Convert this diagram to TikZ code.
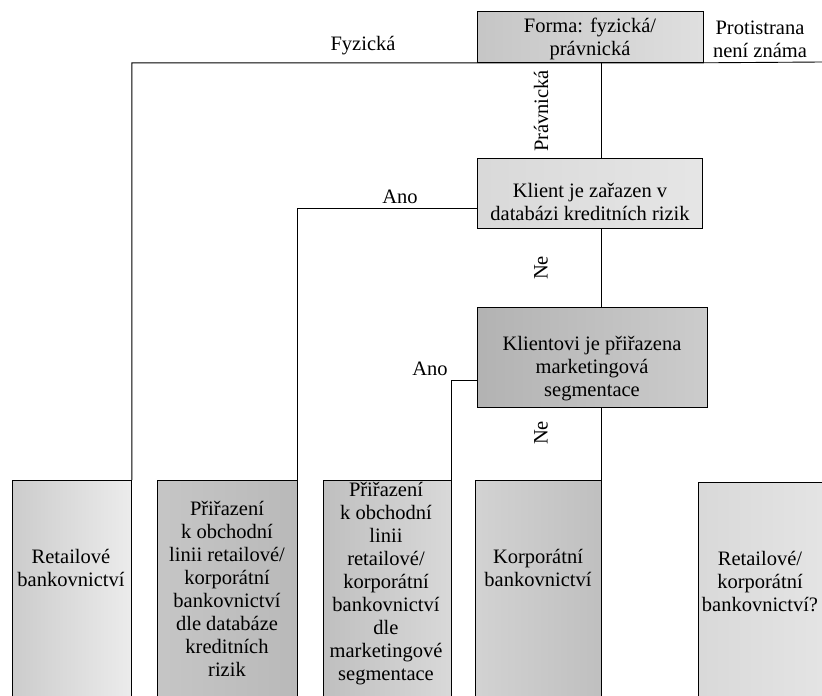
\documentclass[tikz,border=0pt]{standalone}
\usepackage{fontspec}
\setmainfont{Liberation Serif}
\begin{document}
\begin{tikzpicture}[x=1pt,y=-1pt,
  box/.style={draw=black, line width=0.8pt, inner sep=0pt, anchor=north west},
  txt/.style={font=\fontsize{20.5}{23}\selectfont, align=center, inner sep=1pt},
  lbl/.style={font=\fontsize{20.5}{23}\selectfont, inner sep=1pt},
  conn/.style={draw=black, line width=0.9pt}]
\useasboundingbox (0,0) rectangle (822,696);
\fill[white] (0,0) rectangle (822,696);
\clip (0,0) rectangle (822,696);
% decision boxes
\node[box, left color=gray!45, right color=gray!25, minimum width=226pt, minimum height=51pt] (forma) at (477,11) {};
\node[box, left color=gray!30, right color=gray!20, minimum width=225pt, minimum height=70pt] (klient) at (477,158) {};
\node[box, left color=gray!60, right color=gray!40, minimum width=230pt, minimum height=100pt] (mark) at (477,307) {};
% leaf boxes
\node[box, left color=gray!40, right color=gray!15, minimum width=119pt, minimum height=230pt] (b1) at (12,480) {};
\node[box, left color=gray!45, right color=gray!55, minimum width=140pt, minimum height=230pt] (b2) at (157,480) {};
\node[box, left color=gray!50, right color=gray!30, minimum width=128pt, minimum height=230pt] (b3) at (323,480) {};
\node[box, left color=gray!35, right color=gray!50, minimum width=126pt, minimum height=230pt] (b4) at (475,480) {};
\node[box, left color=gray!30, right color=gray!20, minimum width=140pt, minimum height=230pt] (b5) at (698,482) {};
% texts
\node[txt] (tforma) at (590,39) {Forma: fyzická/\\právnická};
\node[txt] (tklient) at (590,202) {Klient je zařazen v\\databázi kreditních rizik};
\node[txt] (tmark) at (592,369) {Klientovi je přiřazena\\marketingová\\segmentace};
\node[txt] (tb1) at (71,568) {Retailové\\bankovnictví};
\node[txt] (tb2) at (227,589) {Přiřazení\\k obchodní\\linii retailové/\\korporátní\\bankovnictví\\dle databáze\\kreditních\\rizik};
\node[txt] (tb3) at (386,584) {Přiřazení\\k obchodní\\linii\\retailové/\\korporátní\\bankovnictví\\dle\\marketingové\\segmentace};
\node[txt] (tb4) at (538,568) {Korporátní\\bankovnictví};
\node[txt] (tb5) at (760,582) {Retailové/\\korporátní\\bankovnictví?};
\node[txt] (tprot) at (760,39) {Protistrana\\není známa};
% connectors
\coordinate (rend) at (822,62);
\coordinate (ano1) at (477,208);
\coordinate (ano2) at (477,380);
\draw[conn] (rend) -- (forma.south east) -- (forma.south west) -| (b1.north east);
\draw[conn] (b4.north east |- forma.south) -- (b4.north east |- klient.north);
\draw[conn] (b4.north east |- klient.south) -- (b4.north east |- mark.north);
\draw[conn] (b4.north east |- mark.south) -- (b4.north east);
\draw[conn] (ano1) -| (b2.north east);
\draw[conn] (ano2) -| (b3.north east);
% labels
\node[lbl] (lfyz) at (363,46) {Fyzická};
\node[lbl, rotate=90] (lprav) at (541,111) {Právnická};
\node[lbl] (lano1) at (400,197) {Ano};
\node[lbl, rotate=90] (lne1) at (541,268) {Ne};
\node[lbl] (lano2) at (430,369) {Ano};
\node[lbl, rotate=90] (lne2) at (541,433) {Ne};
\end{tikzpicture}
\end{document}
